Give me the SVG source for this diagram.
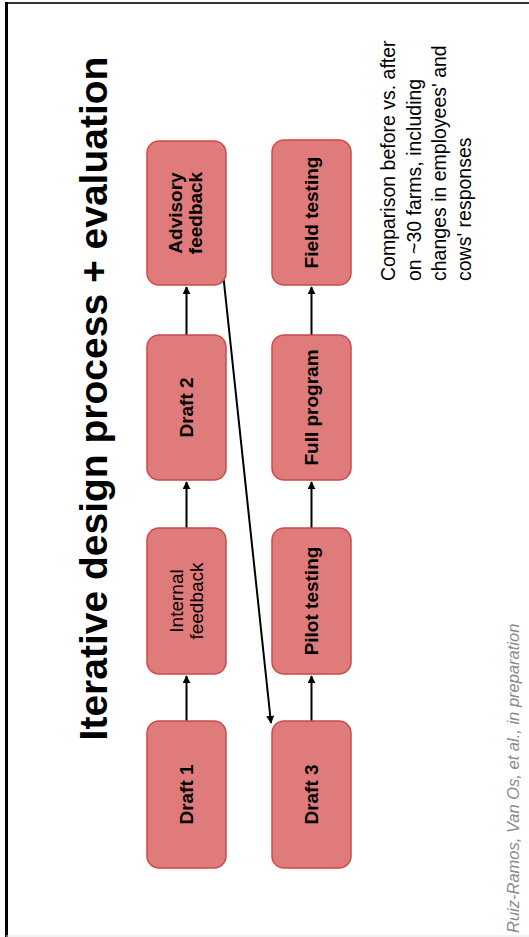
<svg xmlns="http://www.w3.org/2000/svg" width="529" height="937" viewBox="0 0 529 937">
  <style>
    .box { fill: #e07b7b; stroke: #cc4a4a; stroke-width: 1.5; }
    .lbl { font-family: "Liberation Sans", Arial, sans-serif; font-size: 19px; fill: #000; text-anchor: middle; }
    .b { font-weight: bold; }
    .conn { stroke: #000; stroke-width: 2; fill: none; marker-end: url(#ah); }
  </style>
  <defs>
    <marker id="ah" viewBox="0 0 10 10" refX="9" refY="5" markerWidth="4" markerHeight="4" orient="auto" markerUnits="strokeWidth">
      <path d="M0,0 L10,5 L0,10 z" fill="#000"/>
    </marker>
  </defs>

  <rect x="0" y="0" width="529" height="937" fill="#fff"/>
  <!-- frame -->
  <line x1="6" y1="3" x2="529" y2="3" stroke="#333" stroke-width="2"/>
  <line x1="6.5" y1="2" x2="6.5" y2="937" stroke="#000" stroke-width="3"/>
  <line x1="6" y1="936" x2="529" y2="936" stroke="#e4e4e4" stroke-width="1"/>

  <!-- title -->
  <text transform="translate(107,398.5) rotate(-90)" text-anchor="middle" font-family="'Liberation Sans', Arial, sans-serif" font-size="39" font-weight="bold" fill="#000">Iterative design process + evaluation</text>

  <!-- connectors -->
  <g id="connectors">
    <line class="conn" x1="186.5" y1="721" x2="186.5" y2="676"/>
    <line class="conn" x1="186.5" y1="528" x2="186.5" y2="482"/>
    <line class="conn" x1="186.5" y1="335" x2="186.5" y2="287"/>
    <line class="conn" x1="311.5" y1="721" x2="311.5" y2="676"/>
    <line class="conn" x1="311.5" y1="528" x2="311.5" y2="482"/>
    <line class="conn" x1="311.5" y1="335" x2="311.5" y2="287"/>
    <line class="conn" x1="223" y1="273" x2="271" y2="723"/>
  </g>

  <!-- column 1 -->
  <g id="draft1">
    <rect class="box" x="147" y="721" width="79" height="147" rx="12"/>
    <text class="lbl b" transform="translate(186.5,794.5) rotate(-90)" y="6.8">Draft 1</text>
  </g>
  <g id="internal-feedback">
    <rect class="box" x="147" y="528" width="79" height="146" rx="12"/>
    <text class="lbl" transform="translate(186.5,601) rotate(-90)"><tspan x="0" y="-4">Internal</tspan><tspan x="0" y="16">feedback</tspan></text>
  </g>
  <g id="draft2">
    <rect class="box" x="147" y="335" width="79" height="145" rx="12"/>
    <text class="lbl b" transform="translate(186.5,407.5) rotate(-90)" y="6.8">Draft 2</text>
  </g>
  <g id="advisory-feedback">
    <rect class="box" x="147" y="141" width="79" height="144" rx="12"/>
    <text class="lbl b" transform="translate(186.5,213) rotate(-90)"><tspan x="0" y="-4.5">Advisory</tspan><tspan x="0" y="15.5">feedback</tspan></text>
  </g>

  <!-- column 2 -->
  <g id="draft3">
    <rect class="box" x="272" y="721" width="79" height="147" rx="12"/>
    <text class="lbl b" transform="translate(311.5,794.5) rotate(-90)" y="6.8">Draft 3</text>
  </g>
  <g id="pilot-testing">
    <rect class="box" x="272" y="528" width="79" height="146" rx="12"/>
    <text class="lbl b" transform="translate(311.5,601) rotate(-90)" y="6.8">Pilot testing</text>
  </g>
  <g id="full-program">
    <rect class="box" x="272" y="335" width="79" height="145" rx="12"/>
    <text class="lbl b" transform="translate(311.5,407.5) rotate(-90)" y="6.8">Full program</text>
  </g>
  <g id="field-testing">
    <rect class="box" x="272" y="140" width="79" height="145" rx="12"/>
    <text class="lbl b" transform="translate(311.5,212.5) rotate(-90)" y="6.8">Field testing</text>
  </g>

  <!-- evaluation note -->
  <text transform="translate(0,281) rotate(-90)" font-family="'Liberation Sans', Arial, sans-serif" font-size="19.5" fill="#000">
    <tspan x="0" y="395">Comparison before vs. after</tspan>
    <tspan x="0" y="421">on ~30 farms, including</tspan>
    <tspan x="0" y="446">changes in employees' and</tspan>
    <tspan x="0" y="471">cows' responses</tspan>
  </text>

  <!-- citation -->
  <text transform="translate(519,933) rotate(-90)" font-family="'Liberation Sans', Arial, sans-serif" font-size="16.5" font-style="italic" fill="#8a8a8a">Ruiz-Ramos, Van Os, et al., in preparation</text>
</svg>
